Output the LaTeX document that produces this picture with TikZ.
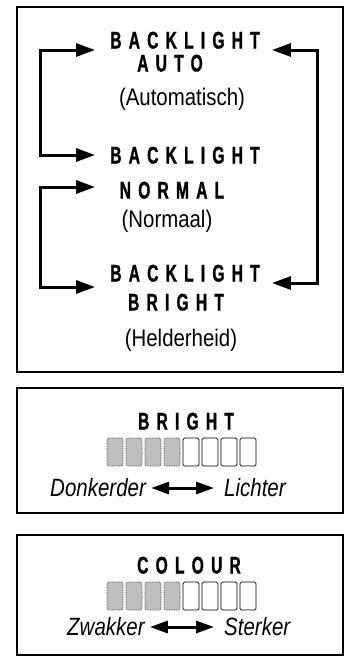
\documentclass[tikz,border=0pt]{standalone}
\usepackage{fontspec}
\setmainfont{Liberation Sans}
\newfontfamily\titlefont{Liberation Sans Bold}[FakeStretch=0.65,LetterSpace=30,FakeBold=1.2]
\newfontfamily\subfont{Liberation Sans}[FakeStretch=0.85]
\newfontfamily\italfont{Liberation Sans Italic}[FakeStretch=0.82]
\usetikzlibrary{arrows.meta}

\begin{document}
\begin{tikzpicture}[
  x=1pt, y=-1pt,
  panel/.style={draw, line width=2.2pt},
  heading/.style={font=\titlefont\fontsize{24}{26}\selectfont, inner sep=0pt, text height=17pt, text depth=0pt},
  subtext/.style={font=\subfont\fontsize{24}{26}\selectfont, inner sep=0pt},
  scaletext/.style={font=\italfont\fontsize{25}{27}\selectfont, inner sep=0pt},
  bracket/.style={line width=3pt, {Triangle[length=19pt,width=13pt]}-{Triangle[length=19pt,width=13pt]}},
  both/.style={line width=3pt, {Triangle[length=18pt,width=12pt]}-{Triangle[length=18pt,width=12pt]}, shorten <=5pt, shorten >=10pt},
  cell/.style={draw, line width=0.7pt, rounded corners=1.5pt, minimum width=16pt, minimum height=28pt, inner sep=0pt},
  litcell/.style={cell, draw=black!80, densely dotted, fill=black!25},
]
\useasboundingbox (0,0) rectangle (345,657);

% frames
\draw[panel] (17,7) rectangle (343,372);
\draw[panel] (17,388) rectangle (343,513);
\draw[panel] (17,535) rectangle (343,655);

% backlight menu
\node[heading] (bl1) at (185,40) {BACKLIGHT};
\node[heading] (auto) at (170,63) {AUTO};
\node[subtext] (autotxt) at (182,99) {(Automatisch)};
\node[heading] (bl2) at (185,155) {BACKLIGHT};
\node[heading] (normal) at (172,190) {NORMAL};
\node[subtext] (normaltxt) at (167,221) {(Normaal)};
\node[heading] (bl3) at (185,273) {BACKLIGHT};
\node[heading] (bright) at (176,302) {BRIGHT};
\node[subtext] (brighttxt) at (181,340) {(Helderheid)};

\coordinate (l1) at (40,50);
\coordinate (l2) at (40,155);
\coordinate (l3) at (40,187);
\coordinate (l4) at (40,287);
\coordinate (r1) at (317,50);
\coordinate (r2) at (317,283);

\draw[bracket, shorten <=15pt, shorten >=15pt] (bl1.west |- l1) -- (l1) -- (l2) -- (bl2.west |- l2);
\draw[bracket, shorten <=15pt, shorten >=15pt] (bl2.west |- l3) -- (l3) -- (l4) -- (bl3.west |- l4);
\draw[bracket, shorten <=12pt, shorten >=12pt] (bl1.east |- r1) -- (r1) -- (r2) -- (bl3.east |- r2);

% brightness
\node[heading] (brtitle) at (186,421) {BRIGHT};
\foreach \i in {0,...,3}
  \node[litcell] (b\i) at (115+19*\i,452) {};
\foreach \i in {4,...,7}
  \node[cell] (b\i) at (115+19*\i,452) {};
\node[scaletext, anchor=west] (dark) at (50,488) {Donkerder};
\node[scaletext, anchor=west] (light) at (224,488) {Lichter};
\draw[both] (dark) -- (light);

% colour
\node[heading] (coltitle) at (189,565) {COLOUR};
\foreach \i in {0,...,3}
  \node[litcell] (c\i) at (115+19*\i,596) {};
\foreach \i in {4,...,7}
  \node[cell] (c\i) at (115+19*\i,596) {};
\node[scaletext, anchor=west] (weak) at (67,627) {Zwakker};
\node[scaletext, anchor=west] (strong) at (224,627) {Sterker};
\draw[both] (weak) -- (strong);
\end{tikzpicture}
\end{document}
